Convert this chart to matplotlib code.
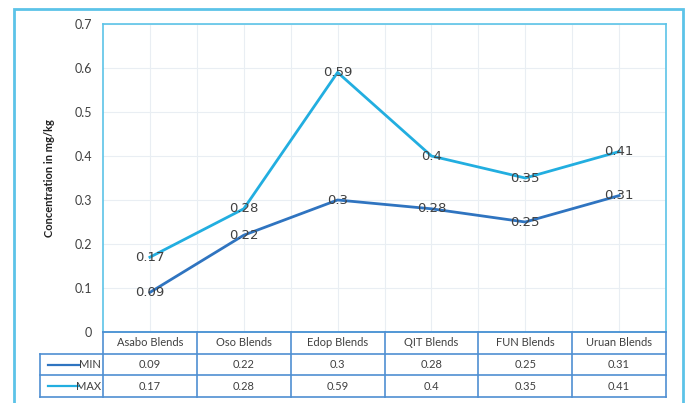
import matplotlib
matplotlib.use("Agg")
import matplotlib.pyplot as plt
from matplotlib.patches import Rectangle

plt.rcParams['font.family'] = ['Lato', 'DejaVu Sans']

categories = ['Asabo Blends', 'Oso Blends', 'Edop Blends', 'QIT Blends', 'FUN Blends', 'Uruan Blends']
min_vals = [0.09, 0.22, 0.3, 0.28, 0.25, 0.31]
max_vals = [0.17, 0.28, 0.59, 0.4, 0.35, 0.41]
series_names = ['MIN', 'MAX']
y_ticks = [0, 0.1, 0.2, 0.3, 0.4, 0.5, 0.6, 0.7]

c_min = '#2F74C0'
c_max = '#22AEE0'
c_frame = '#5CC3E8'
c_table = '#4F8FD2'
c_grid = '#E9EEF3'
c_text = '#404040'

W, H = 689, 403
fig = plt.figure(figsize=(W / 100, H / 100), dpi=100)

# outer chart border
fig.patches.append(Rectangle((14 / W, -0.01), (683 - 14) / W, (H - 9) / H + 0.01,
                             transform=fig.transFigure, fill=False,
                             edgecolor=c_frame, linewidth=2))

ax = fig.add_axes([103 / W, 1 - 332 / H, (666 - 103) / W, (332 - 24) / H])
x = list(range(len(categories)))

ax.plot(x, min_vals, color=c_min, linewidth=2, zorder=3)
ax.plot(x, max_vals, color=c_max, linewidth=2, zorder=3)
for xi, v in zip(x, min_vals):
    ax.text(xi, v, f'{v:g}', ha='center', va='center', fontsize=9.5,
            color=c_text, family=['DejaVu Sans'], zorder=4)
for xi, v in zip(x, max_vals):
    ax.text(xi, v, f'{v:g}', ha='center', va='center', fontsize=9.5,
            color=c_text, family=['DejaVu Sans'], zorder=4)

ax.set_xlim(-0.5, len(categories) - 0.5)
ax.set_ylim(0, 0.7)
ax.set_yticks(y_ticks)
ax.set_yticklabels([f'{t:g}' for t in y_ticks], fontsize=9, color=c_text)
ax.set_xticks([])
ax.tick_params(axis='y', length=0, pad=8)
# faint grid at category centres and boundaries
for xi in x:
    ax.axvline(xi, color=c_grid, linewidth=0.8, zorder=0)
    ax.axvline(xi + 0.5, color=c_grid, linewidth=0.8, zorder=0)
for t in y_ticks[1:]:
    ax.axhline(t, color=c_grid, linewidth=0.8, zorder=0)
for s in ax.spines.values():
    s.set_color(c_frame)
    s.set_linewidth(1.2)
ax.set_ylabel('Concentration in mg/kg', fontsize=8, fontweight='bold',
              color='#202020', labelpad=14)

# data table under the plot
tab = fig.add_axes([103 / W, 1 - 397 / H, (666 - 103) / W, (397 - 332) / H])
tab.set_xlim(-0.5, len(categories) - 0.5)
tab.set_ylim(0, 3)
tab.axis('off')
left = -0.5 - 63 / ((666 - 103) / len(categories))
kw = dict(color=c_table, linewidth=1.2, clip_on=False)
tab.plot([-0.5, 5.5], [3, 3], **kw)
tab.plot([left, 5.5], [2, 2], **kw)
tab.plot([left, 5.5], [1, 1], **kw)
tab.plot([left, 5.5], [0, 0], **kw)
tab.plot([left, left], [0, 2], **kw)
for b in range(len(categories) + 1):
    tab.plot([b - 0.5, b - 0.5], [0, 3], **kw)
for xi, cat in zip(x, categories):
    tab.text(xi, 2.5, cat, ha='center', va='center', fontsize=8, color=c_text)
rows = [(series_names[0], min_vals, c_min, 1.5), (series_names[1], max_vals, c_max, 0.5)]
for name, vals, col, yy in rows:
    tab.plot([left + 0.08, left + 0.42], [yy, yy], color=col, linewidth=1.6, clip_on=False)
    tab.text(-0.52, yy, name, ha='right', va='center', fontsize=8, color=c_text)
    for xi, v in zip(x, vals):
        tab.text(xi, yy, f'{v:g}', ha='center', va='center', fontsize=8, color=c_text)

fig.savefig('out.png', dpi=100)
